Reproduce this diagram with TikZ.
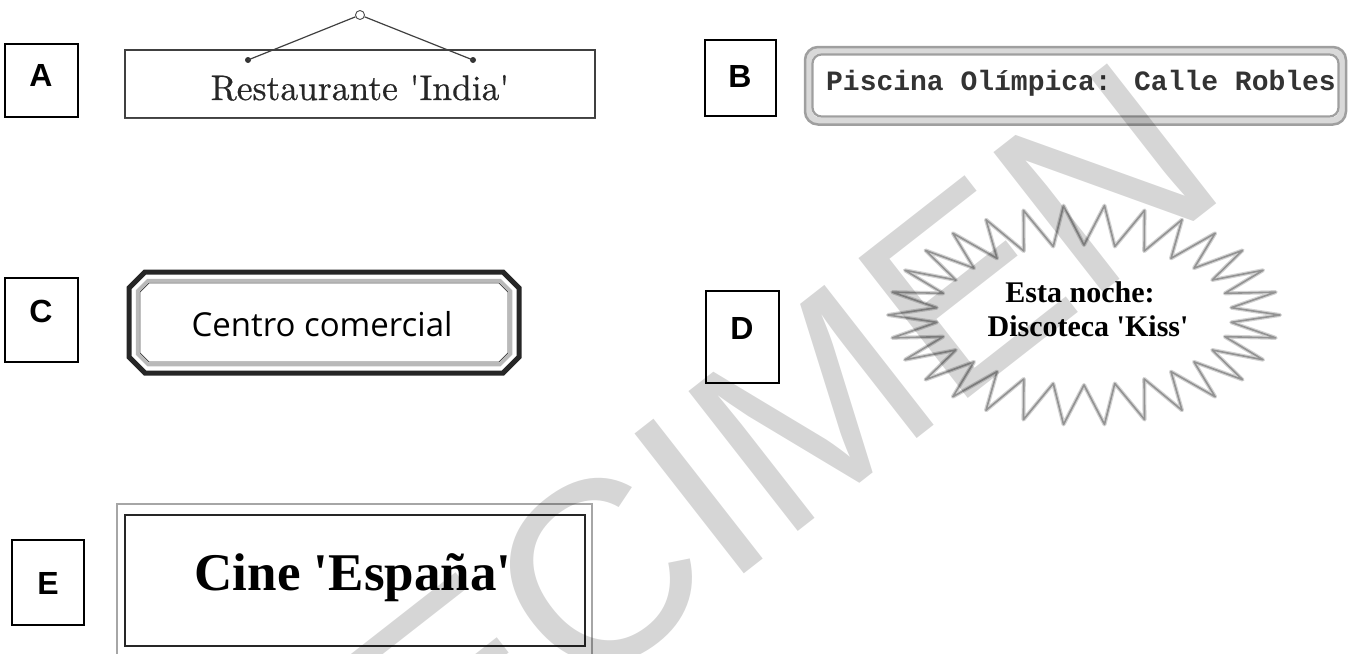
\documentclass[tikz,border=0pt]{standalone}
\usepackage{fontspec}
\newfontfamily\arialfont{Liberation Sans}
\newfontfamily\timesfont{Liberation Serif}
\newfontfamily\courierfont{Liberation Mono}
\newfontfamily\signsans{Open Sans}
\newfontfamily\signroman[FakeBold=0.6]{lmroman10-regular.otf}
\newcommand{\sq}{\textquotesingle}

\begin{document}
\begin{tikzpicture}[x=1pt, y=-1pt,
	letterbox/.style={draw, line width=1.3pt, inner sep=0pt},
	letter/.style={anchor=base, inner sep=0pt, font=\arialfont\bfseries\fontsize{32}{32}\selectfont},
	signtext/.style={anchor=base, inner sep=0pt}]
	\useasboundingbox (0,0) rectangle (1351,653);
	\clip (0,0) rectangle (1351,653);
	% letter boxes
	\node[letterbox, minimum width=73pt, minimum height=73pt] (boxA) at (41.5,80.5) {};
	\node[letter] (letA) at (41,86) {A};
	\node[letterbox, minimum width=71pt, minimum height=76pt] (boxB) at (740.5,78) {};
	\node[letter] (letB) at (740,87) {B};
	\node[letterbox, minimum width=73pt, minimum height=84pt] (boxC) at (41.5,320) {};
	\node[letter] (letC) at (41,322) {C};
	\node[letterbox, minimum width=73pt, minimum height=92pt] (boxD) at (742.5,337) {};
	\node[letter] (letD) at (742,339) {D};
	\node[letterbox, minimum width=72pt, minimum height=85pt] (boxE) at (48,582.5) {};
	\node[letter] (letE) at (48,594) {E};
	% A: hanging sign
	\node[draw=black!75, line width=1.8pt, minimum width=470pt, minimum height=68pt] (signA) at (360,84) {};
	\draw[black!70, line width=1pt] (signA.south west) -- (signA.south east);
	\coordinate (hookL) at (248,60);
	\coordinate (hookR) at (473,60);
	\node[circle, draw=black!70, fill=white, line width=0.9pt, inner sep=0pt, minimum size=9pt] (ring) at (360,15) {};
	\fill[black!80] (hookL) circle (3) (hookR) circle (3);
	\draw[black!75, line width=1.2pt] (hookL) -- (ring);
	\draw[black!75, line width=1.2pt] (hookR) -- (ring);
	\node[signtext, text=black!85, font=\signroman\fontsize{35.5}{35.5}\selectfont] (txtA) at (360,100) {Restaurante \sq India\sq};
	% B: double rounded frame
	\draw[gray!30, line width=7pt, rounded corners=11pt] (808.5,50.5) rectangle (1342.5,121);
	\draw[gray!75, line width=2.5pt, rounded corners=13pt] (805,47) rectangle (1346,124.5);
	\draw[gray!75, line width=2.2pt, rounded corners=9pt] (812.5,54.5) rectangle (1338.5,116.5);
	\node[signtext, text=black!80, font=\courierfont\bfseries\fontsize{28}{28}\selectfont] (txtB) at (1081,90) {Piscina Olímpica: Calle Robles};
	% C: cut corner frame
	\draw[black!85, line width=5pt] (145,272) -- (503,272) -- (519,288) -- (519,357) -- (503,373)
		-- (145,373) -- (129,357) -- (129,288) -- cycle;
	\draw[gray!55, line width=3.5pt] (148,280.5) -- (500,280.5) -- (510.5,291) -- (510.5,354) -- (500,364.5)
		-- (148,364.5) -- (137.5,354) -- (137.5,291) -- cycle;
	\draw[black!70, line width=0.8pt] (149,283) -- (499,283) -- (508,292) -- (508,353) -- (499,362)
		-- (149,362) -- (140,353) -- (140,292) -- cycle;
	\node[signtext, font=\signsans\fontsize{33}{33}\selectfont] (txtC) at (322,336) {Centro comercial};
	% D: starburst
	\draw[gray!35, line width=4pt, line join=round] (1280,315)
		\foreach \k in {0,...,29} {-- ({1084+148*cos(\k*12+6)},{315+70*sin(\k*12+6)}) -- ({1084+196*cos(\k*12+12)},{315+110*sin(\k*12+12)})} -- cycle;
	\draw[gray!85, line width=1.6pt, line join=round] (1280,315)
		\foreach \k in {0,...,29} {-- ({1084+148*cos(\k*12+6)},{315+70*sin(\k*12+6)}) -- ({1084+196*cos(\k*12+12)},{315+110*sin(\k*12+12)})} -- cycle;
	\node[signtext, font=\timesfont\bfseries\fontsize{30}{30}\selectfont] (txtD1) at (1080,302) {Esta noche:};
	\node[signtext, font=\timesfont\bfseries\fontsize{30}{30}\selectfont] (txtD2) at (1088,336) {Discoteca \sq Kiss\sq};
	% E: double frame
	\draw[gray!70, line width=2.5pt] (117,504) rectangle (592,670);
	\draw[black!85, line width=2pt] (125,515) rectangle (585,646);
	\node[signtext, font=\timesfont\bfseries\fontsize{53}{53}\selectfont] (txtE) at (353,590) {Cine \sq España\sq};
	% watermark
	\node[rotate=38, text=black, text opacity=0.16, inner sep=0pt, font=\arialfont\fontsize{258}{258}\selectfont] (stamp) at (648,536) {SPECIMEN};
\end{tikzpicture}
\end{document}
